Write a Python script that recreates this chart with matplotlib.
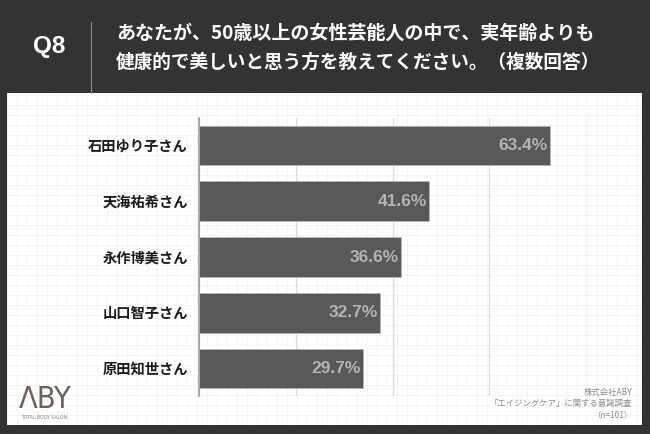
import numpy as np
import matplotlib
matplotlib.use("Agg")
import matplotlib.pyplot as plt

plt.rcParams['font.family'] = ['Noto Sans CJK JP', 'DejaVu Sans']

# data
names = ["石田ゆり子さん", "天海祐希さん", "永作博美さん", "山口智子さん", "原田知世さん"]
values = [63.4, 41.6, 36.6, 32.7, 29.7]
value_labels = ["63.4%", "41.6%", "36.6%", "32.7%", "29.7%"]
x_grid = [0, 17.5, 35, 52.5, 70]

question_no = "Q8"
title_lines = ["あなたが、50歳以上の女性芸能人の中で、実年齢よりも",
               "健康的で美しいと思う方を教えてください。（複数回答）"]
source_lines = ["株式会社ABY", "「エイジングケア」に関する意識調査", "（n=101）"]

W, H = 650, 434
DARK = "#333333"
BAR = "#595959"


def fx(px):
    return px / W


def fy(py):
    return 1 - py / H


fig = plt.figure(figsize=(6.5, 4.34), dpi=100, facecolor=DARK)

# white panel with a faint square grid
panel = fig.add_axes([fx(7), fy(425), fx(642 - 7), (425 - 93) / H])
panel.set_facecolor("white")
panel.set_xlim(0, 635)
panel.set_ylim(0, 332)
panel.set_xticks(np.arange(0, 636, 10))
panel.set_yticks(np.arange(0, 333, 10))
panel.grid(True, color="#f3f3f3", linewidth=0.6)
panel.tick_params(length=0, labelbottom=False, labelleft=False)
for s in panel.spines.values():
    s.set_visible(False)

# header
fig.text(fx(49), fy(47), question_no, color="white", fontsize=17.5, fontweight="bold",
         ha="center", va="center", family=["Liberation Sans", "DejaVu Sans"])
fig.add_artist(plt.Line2D([fx(91), fx(91)], [fy(22), fy(93)], color="#8a8a8a", linewidth=0.8))
fig.text(fx(116), fy(33), title_lines[0], color="white", fontsize=13.7, fontweight="bold",
         ha="left", va="center")
fig.text(fx(116), fy(62), title_lines[1], color="white", fontsize=13.4, fontweight="bold",
         ha="left", va="center")

# bar chart
ax = fig.add_axes([fx(199), fy(396.4), fx(586 - 199), (396.4 - 117.6) / H])
ax.set_facecolor("none")
y = np.arange(len(names))
ax.barh(y, values, height=0.71, color=BAR, edgecolor="#b5b5b5", linewidth=0.6, zorder=3)
for yi, v, lab in zip(y, values, value_labels):
    ax.text(v - 0.4, yi, lab, color="#b4b4b4", fontsize=12.5, fontweight="bold",
            ha="right", va="center", zorder=4, family=["Liberation Sans", "DejaVu Sans"])

ax.set_xlim(0, 70)
ax.set_ylim(len(names) - 0.5, -0.5)
ax.set_xticks(x_grid)
ax.xaxis.grid(True, color="#dcdcdc", linewidth=0.9, zorder=0)
ax.set_yticks(y)
ax.set_yticklabels(names, fontsize=10.3, fontweight="bold", color="#1a1a1a")
ax.tick_params(axis="y", length=0, pad=8)
ax.tick_params(axis="x", length=0, labelbottom=False)
for s in ["top", "right", "bottom"]:
    ax.spines[s].set_visible(False)
ax.spines["left"].set_color("#9a9a9a")
ax.spines["left"].set_linewidth(1.2)

# logo
fig.text(fx(45), fy(400), "ΛBY", color="#6d6159", fontsize=22, ha="center", va="center",
         family=["DejaVu Sans"], fontstretch="condensed")
fig.text(fx(44), fy(417.5), "TOTAL BODY SALON", color="#8a807a", fontsize=3.3,
         ha="center", va="center", family=["DejaVu Sans"])

# source
for i, line in enumerate(source_lines):
    fig.text(fx(632), fy(392 + 11.5 * i), line, color="#8c8c8c", fontsize=6,
             ha="right", va="center")

fig.savefig("out.png", dpi=100, facecolor=DARK)
